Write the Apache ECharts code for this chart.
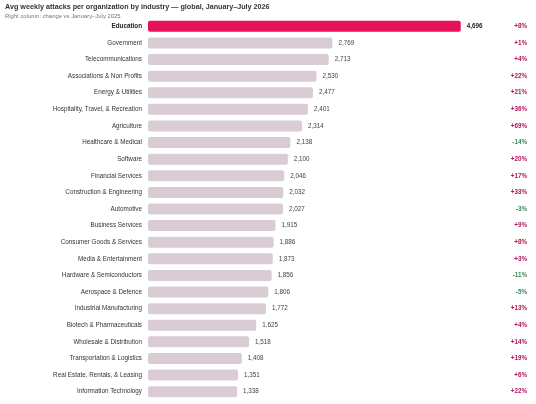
<!DOCTYPE html>
<html>
<head>
<meta charset="utf-8">
<script src="https://cdn.jsdelivr.net/npm/echarts@6/dist/echarts.min.js"></script>
<style>
  html, body { margin: 0; padding: 0; background: #fff; }
  #main { width: 536px; height: 404px; }
</style>
</head>
<body>
<div id="main"></div>
<script>
var industries = ['Education', 'Government', 'Telecommunications', 'Associations & Non Profits',
    'Energy & Utilities', 'Hospitality, Travel, & Recreation', 'Agriculture', 'Healthcare & Medical',
    'Software', 'Financial Services', 'Construction & Engineering', 'Automotive', 'Business Services',
    'Consumer Goods & Services', 'Media & Entertainment', 'Hardware & Semiconductors',
    'Aerospace & Defence', 'Industrial Manufacturing', 'Biotech & Pharmaceuticals',
    'Wholesale & Distribution', 'Transportation & Logistics', 'Real Estate, Rentals, & Leasing',
    'Information Technology'];
var attacks = [4696, 2769, 2713, 2530, 2477, 2401, 2314, 2138, 2100, 2046, 2032, 2027, 1915,
    1886, 1873, 1856, 1806, 1772, 1625, 1518, 1408, 1351, 1338];
var changes = [8, 1, 4, 22, 21, 36, 69, -14, 20, 17, 33, -3, 9, 8, 3, -11, -5, 13, 4, 14, 19, 6, 22];

var myChart = echarts.init(document.getElementById('main'));
var font = 'Liberation Sans, Arial, sans-serif';

option = {
    animation: false,
    textStyle: { fontFamily: font },
    title: {
        text: 'Avg weekly attacks per organization by industry \u2014 global, January\u2013July 2026',
        subtext: 'Right column: change vs January\u2013July 2025',
        left: 0,
        top: -1,
        itemGap: 2,
        textStyle: { fontSize: 7.2, fontWeight: 'bold', color: '#333' },
        subtextStyle: { fontSize: 5.9, color: '#777' }
    },
    grid: { left: 148, right: 55, top: 18, bottom: 4, containLabel: false },
    xAxis: { type: 'value', min: 0, max: 5000, show: false },
    yAxis: [{
        type: 'category',
        inverse: true,
        data: industries,
        axisLine: { show: false },
        axisTick: { show: false },
        axisLabel: {
            margin: 6,
            fontSize: 6.3,
            color: '#333',
            formatter: function (v, i) {
                return i === 0 ? '{b|' + v + '}' : v;
            },
            rich: { b: { fontSize: 6.3, fontWeight: 'bold', color: '#222' } }
        }
    }, {
        type: 'category',
        inverse: true,
        position: 'right',
        data: changes,
        axisLine: { show: false },
        axisTick: { show: false },
        axisLabel: {
            margin: 46,
            align: 'right',
            fontSize: 6.3,
            formatter: function (v) {
                var n = Number(v);
                return n < 0 ? '{n|' + n + '%}' : '{p|+' + n + '%}';
            },
            rich: {
                p: { fontSize: 6.3, fontWeight: 'bold', color: '#b0145a' },
                n: { fontSize: 6.3, fontWeight: 'bold', color: '#3a8a5c' }
            }
        }
    }],
    series: [{
        type: 'bar',
        barWidth: 11,
        data: attacks.map(function (v, i) {
            return {
                value: v,
                itemStyle: { color: i === 0 ? '#e8115b' : '#d9ccd5', borderRadius: 2 },
                label: i === 0 ? { fontWeight: 'bold', color: '#222' } : {}
            };
        }),
        label: {
            show: true,
            position: 'right',
            distance: 6,
            fontSize: 6.3,
            color: '#444',
            formatter: function (p) { return p.value.toLocaleString('en-US'); }
        }
    }]
};
myChart.setOption(option);
</script>
</body>
</html>
